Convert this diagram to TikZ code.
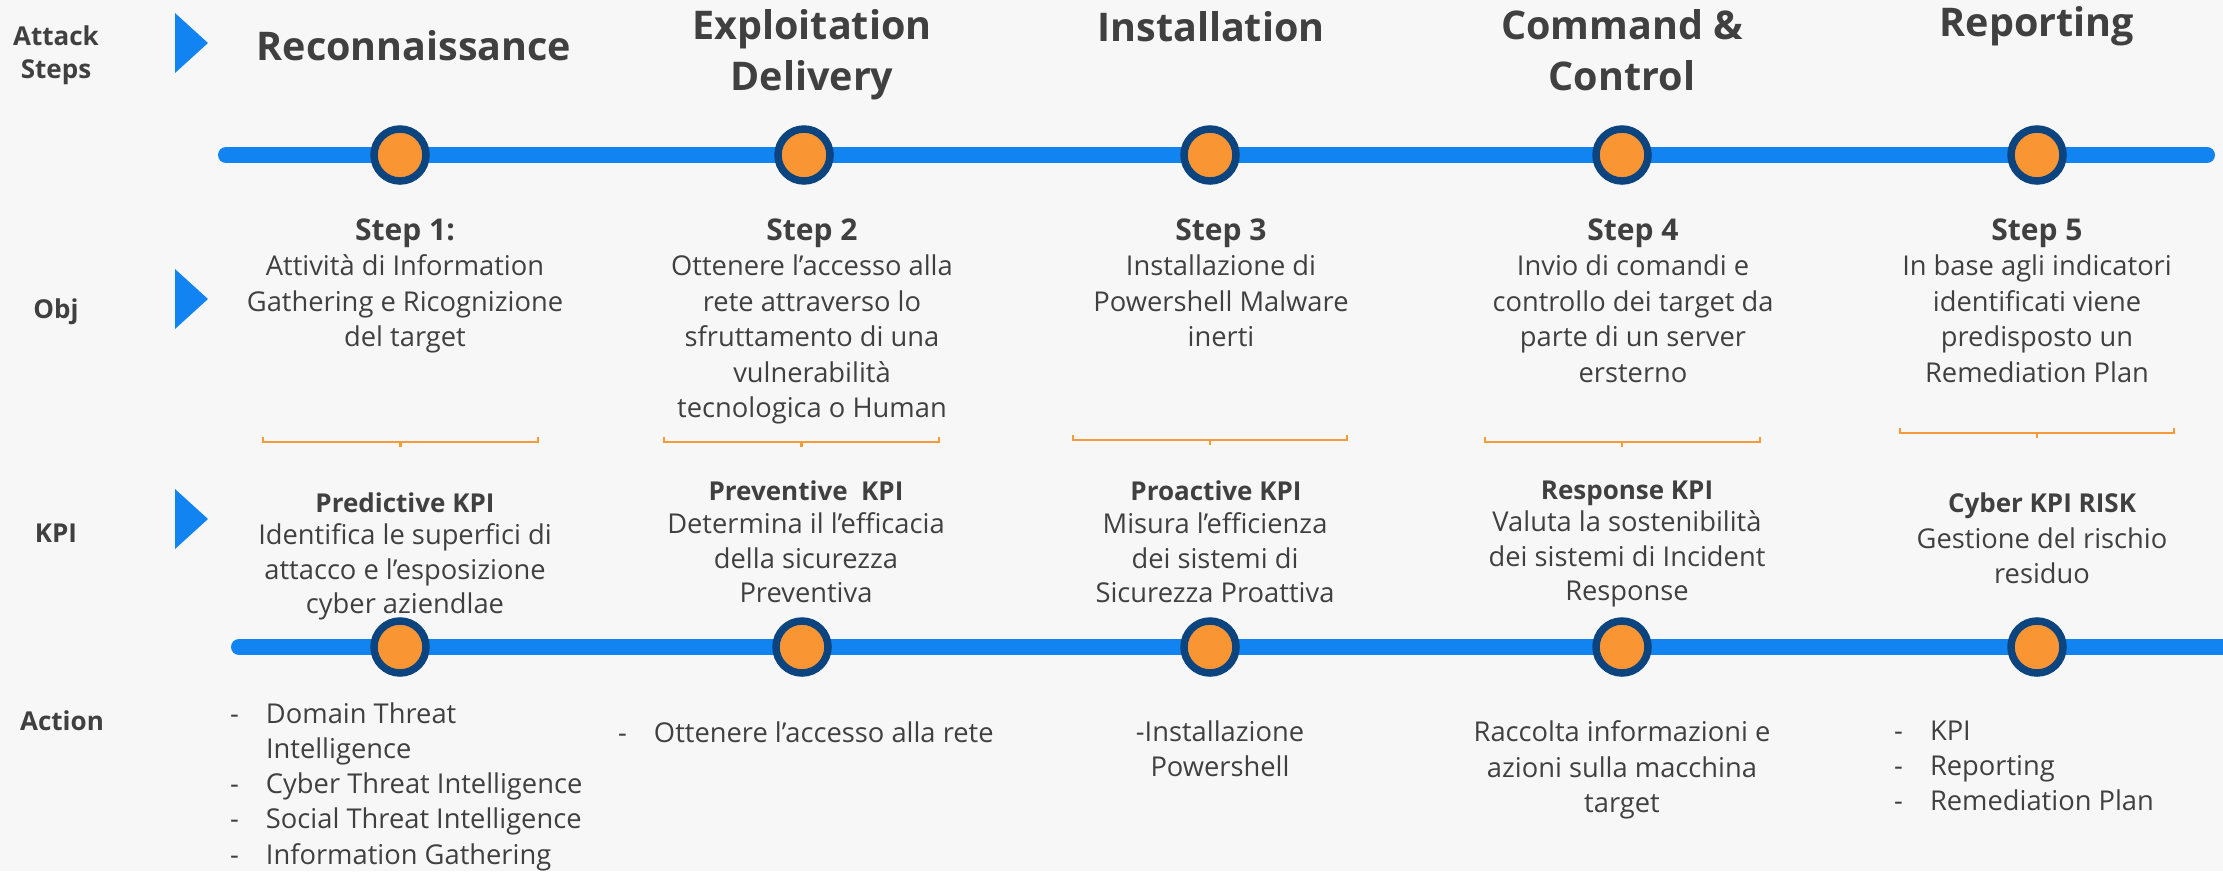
\documentclass[tikz,border=0pt]{standalone}
\usepackage{fontspec}
\setmainfont{Open Sans}
\usetikzlibrary{backgrounds}
\definecolor{bgc}{HTML}{F7F7F7}
\definecolor{lineblue}{HTML}{1184F1}
\definecolor{navy}{HTML}{0B447F}
\definecolor{dotorange}{HTML}{F99633}
\definecolor{brk}{HTML}{F59B3A}
\definecolor{txt}{HTML}{404040}
\begin{document}
\begin{tikzpicture}[x=1pt,y=-1pt,
  every node/.style={inner sep=0pt, outer sep=0pt, text=txt},
  sidelbl/.style={font=\bfseries\fontsize{26}{33}\selectfont, align=center},
  ttl/.style={font=\bfseries\fontsize{39.5}{51}\selectfont, align=center},
  stephd/.style={font=\bfseries\fontsize{30}{35}\selectfont},
  bodytxt/.style={font=\fontsize{27.3}{35.5}\selectfont, align=center, execute at begin node=\strut},
  kpihd/.style={font=\bfseries\fontsize{26}{34}\selectfont},
  kpibody/.style={font=\fontsize{27.3}{34.5}\selectfont, align=center, execute at begin node=\strut},
  acttxt/.style={font=\fontsize{27.3}{35.3}\selectfont, align=left, execute at begin node=\strut},
  actc/.style={font=\fontsize{27.3}{35.3}\selectfont, align=center, execute at begin node=\strut},
  stepdot/.style={circle, draw=navy, fill=dotorange, line width=7.5pt, minimum size=52pt},
  track/.style={draw=lineblue, line width=16pt, line cap=round},
  bracketln/.style={draw=brk, line width=2.5pt},
  arrowtri/.style={fill=lineblue}]
\path[use as bounding box] (0,0) rectangle (2223,871);
\newcommand{\dsh}{\makebox[36pt][l]{-}}

% side labels
\node[sidelbl, anchor=north] (lattack) at (56,21.9) {\strut Attack\\Steps};
\node[sidelbl, anchor=base] (lobj) at (56,318) {Obj};
\node[sidelbl, anchor=base] (lkpi) at (56,542) {KPI};
\node[sidelbl, anchor=base] (laction) at (62,730) {Action};

% triangles
\fill[arrowtri] (175,13) -- (208,43) -- (175,73) -- cycle;
\fill[arrowtri] (175,269) -- (208,299) -- (175,329) -- cycle;
\fill[arrowtri] (175,489) -- (208,519) -- (175,549) -- cycle;

% titles
\node[ttl, anchor=base] (t1) at (414,60) {Reconnaissance};
\node[ttl, anchor=north, execute at begin node=\strut] (t2) at (812,9.8) {Exploitation\\Delivery};
\node[ttl, anchor=base] (t3) at (1211,41) {Installation};
\node[ttl, anchor=north, execute at begin node=\strut] (t4) at (1622,9.8) {Command \&\\Control};
\node[ttl, anchor=base] (t5) at (2037,36.5) {Reporting};

% top track dots
\node[stepdot] (s1) at (400,155) {};
\node[stepdot] (s2) at (804,155) {};
\node[stepdot] (s3) at (1210,155) {};
\node[stepdot] (s4) at (1622,155) {};
\node[stepdot] (s5) at (2037,155) {};
\coordinate (tl) at (226,155);
\coordinate (tr) at (2207,155);

% step headings
\node[stephd, anchor=base] (h1) at (405,240) {Step 1:};
\node[stephd, anchor=base] (h2) at (812,240) {Step 2};
\node[stephd, anchor=base] (h3) at (1221,240) {Step 3};
\node[stephd, anchor=base] (h4) at (1633,240) {Step 4};
\node[stephd, anchor=base] (h5) at (2037,240) {Step 5};

% step bodies
\node[bodytxt, anchor=north] (o1) at (405,255) {Attività di Information\\Gathering e Ricognizione\\del target};
\node[bodytxt, anchor=north] (o2) at (812,255) {Ottenere l’accesso alla\\rete attraverso lo\\sfruttamento di una\\vulnerabilità\\tecnologica o Human};
\node[bodytxt, anchor=north] (o3) at (1221,255) {Installazione di\\Powershell Malware\\inerti};
\node[bodytxt, anchor=north] (o4) at (1633,255) {Invio di comandi e\\controllo dei target da\\parte di un server\\ersterno};
\node[bodytxt, anchor=north] (o5) at (2037,255) {In base agli indicatori\\identificati viene\\predisposto un\\Remediation Plan};

% brackets
\draw[bracketln] (263,437) -- (263,442) -- (538,442) -- (538,437);
\draw[bracketln] (400.5,442) -- (400.5,447);
\draw[bracketln] (664,437) -- (664,442) -- (939,442) -- (939,437);
\draw[bracketln] (801.5,442) -- (801.5,447);
\draw[bracketln] (1073,435) -- (1073,440) -- (1347,440) -- (1347,435);
\draw[bracketln] (1210,440) -- (1210,445);
\draw[bracketln] (1485,437) -- (1485,442) -- (1760,442) -- (1760,437);
\draw[bracketln] (1622,442) -- (1622,447);
\draw[bracketln] (1900,428) -- (1900,433) -- (2174,433) -- (2174,428);
\draw[bracketln] (2037,433) -- (2037,438);

% KPI headings
\node[kpihd, anchor=base] (p1) at (405,512) {Predictive KPI};
\node[kpihd, anchor=base] (p2) at (806,500) {Preventive~\ KPI};
\node[kpihd, anchor=base] (p3) at (1216,500) {Proactive KPI};
\node[kpihd, anchor=base] (p4) at (1627,499) {Response KPI};
\node[kpihd, anchor=base] (p5) at (2042,512) {Cyber KPI RISK};

% KPI bodies
\node[kpibody, anchor=north] (q1) at (405,523.9) {Identifica le superfici di\\attacco e l’esposizione\\cyber aziendlae};
\node[kpibody, anchor=north] (q2) at (806,512.9) {Determina il l’efficacia\\della sicurezza\\Preventiva};
\node[kpibody, anchor=north] (q3) at (1215,512.9) {Misura l’efficienza\\dei sistemi di\\Sicurezza Proattiva};
\node[kpibody, anchor=north] (q4) at (1627,510.9) {Valuta la sostenibilità\\dei sistemi di Incident\\Response};
\node[kpibody, anchor=north] (q5) at (2042,527.9) {Gestione del rischio\\residuo};

% bottom track dots
\node[stepdot] (k1) at (400,647) {};
\node[stepdot] (k2) at (802,647) {};
\node[stepdot] (k3) at (1210,647) {};
\node[stepdot] (k4) at (1622,647) {};
\node[stepdot] (k5) at (2037,647) {};
\coordinate (bl) at (239,647);
\coordinate (br) at (2240,647);

% actions
\node[acttxt, anchor=north west] (a1) at (230,702.3) {\dsh Domain Threat\\\hspace*{36pt}Intelligence\\\dsh Cyber Threat Intelligence\\\dsh Social Threat Intelligence\\\dsh Information Gathering};
\node[acttxt, anchor=north west] (a2) at (618,717.3) {\dsh Ottenere l’accesso alla rete};
\node[actc, anchor=north] (a3) at (1220,720.3) {-Installazione\\Powershell};
\node[actc, anchor=north] (a4) at (1622,720.8) {Raccolta informazioni e\\azioni sulla macchina\\target};
\node[acttxt, anchor=north west] (a5) at (1894,720.8) {\dsh KPI\\\dsh Reporting\\\dsh Remediation Plan};

\begin{pgfonlayer}{background}
\fill[bgc] (0,0) rectangle (2223,871);
\draw[track] (tl) -- (s1.center) -- (s2.center) -- (s3.center) -- (s4.center) -- (s5.center) -- (tr);
\draw[track] (bl) -- (k1.center) -- (k2.center) -- (k3.center) -- (k4.center) -- (k5.center) -- (br);
\end{pgfonlayer}
\end{tikzpicture}
\end{document}
